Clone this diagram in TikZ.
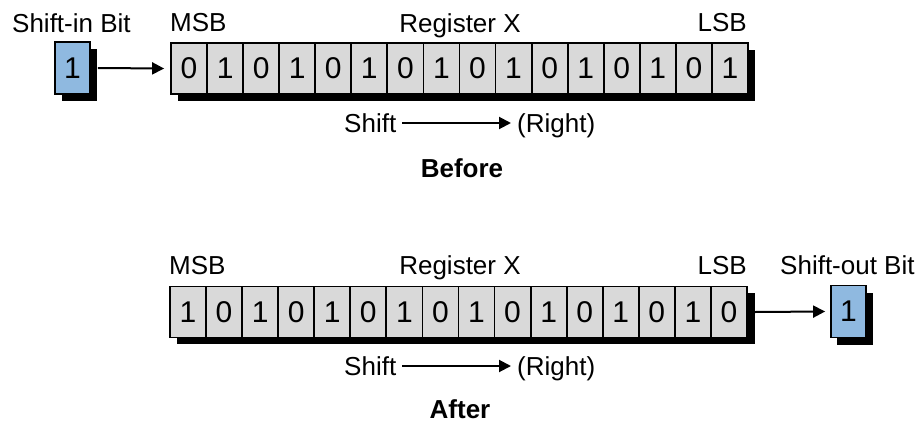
\documentclass[tikz,border=0pt]{standalone}
\usepackage{fontspec}
\setmainfont{Liberation Sans}
\usetikzlibrary{arrows.meta,calc}
\definecolor{cellgray}{RGB}{217,217,217}
\definecolor{bitblue}{RGB}{143,185,224}
\tikzset{
  cell/.style={draw=black,line width=1.8pt,fill=cellgray,minimum width=36.06pt,minimum height=51pt,inner sep=0pt,font=\fontsize{30}{32}\selectfont},
  bitbox/.style={cell,fill=bitblue,minimum width=35pt,minimum height=52pt},
  lbl/.style={inner sep=0pt,font=\fontsize{26}{30}\selectfont},
  blbl/.style={lbl,font=\fontsize{26}{30}\selectfont\bfseries},
  arr/.style={line width=2pt,-{Triangle[length=12pt,width=12pt]}},
  shadow/.style={fill=black}
}
\begin{document}
\begin{tikzpicture}[x=1pt,y=-1pt]
\useasboundingbox (0,0) rectangle (924,426);
% ---------- Before ----------
\fill[shadow] (178,50) rectangle (755,101);
\foreach \b [count=\i] in {0,1,0,1,0,1,0,1,0,1,0,1,0,1,0,1}{
  \node[cell] (a\i) at ({171+36.06*(\i-0.5)},68.5) {\b};
}
\fill[shadow] (62,49) rectangle (97,101);
\node[bitbox] (in) at (72.5,68) {1};
\draw[arr] ([xshift=7pt]in.east) -- ([xshift=-6pt]a1.west);
\node[lbl,anchor=base west] (msbA) at (170,31) {MSB};
\node[lbl,anchor=base] (regA) at (460,32) {Register X};
\node[lbl,anchor=base east] (lsbA) at (747,31) {LSB};
\node[lbl,anchor=base west] (sinA) at (12,32) {Shift-in Bit};
\node[lbl,anchor=base west] (shA) at (344,132) {Shift};
\node[lbl,anchor=base west] (rtA) at (517,132) {(Right)};
\draw[arr] ([xshift=6pt,yshift=9pt]shA.base east) -- ([xshift=-6pt,yshift=9pt]rtA.base west);
\node[blbl,anchor=base] (before) at (462,177) {Before};
% ---------- After ----------
\fill[shadow] (177,293) rectangle (755,344);
\foreach \b [count=\i] in {1,0,1,0,1,0,1,0,1,0,1,0,1,0,1,0}{
  \node[cell] (b\i) at ({170+36.06*(\i-0.5)},312) {\b};
}
\fill[shadow] (837,293) rectangle (873,345);
\node[bitbox] (out) at (848.5,311.5) {1};
\draw[arr] ([xshift=7pt]b16.east) -- ([xshift=-5pt]out.west);
\node[lbl,anchor=base west] (msbB) at (169,274) {MSB};
\node[lbl,anchor=base] (regB) at (460,274) {Register X};
\node[lbl,anchor=base east] (lsbB) at (747,274) {LSB};
\node[lbl,anchor=base west] (soutB) at (780,274) {Shift-out Bit};
\node[lbl,anchor=base west] (shB) at (344,375) {Shift};
\node[lbl,anchor=base west] (rtB) at (517,375) {(Right)};
\draw[arr] ([xshift=6pt,yshift=9pt]shB.base east) -- ([xshift=-6pt,yshift=9pt]rtB.base west);
\node[blbl,anchor=base] (after) at (460,418) {After};
\end{tikzpicture}
\end{document}
